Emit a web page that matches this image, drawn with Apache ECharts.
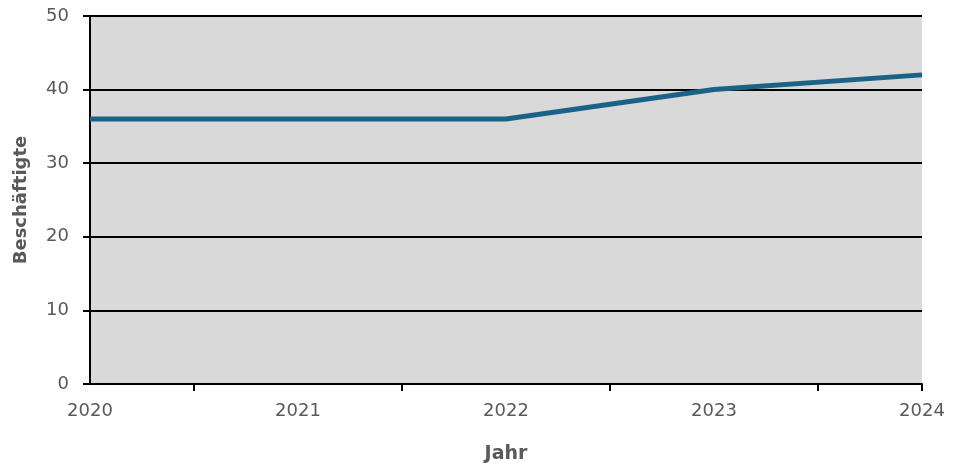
<!DOCTYPE html>
<html><head><meta charset="utf-8">
<script src="https://cdn.jsdelivr.net/npm/echarts@6/dist/echarts.min.js"></script>
<style>html,body{margin:0;padding:0;background:#fff}#c{width:954px;height:470px}</style>
</head><body><div id="c"></div>
<script>
const years = [2020, 2021, 2022, 2023, 2024];
const employees = [36, 36, 36, 40, 42];
const yTicks = [0, 10, 20, 30, 40, 50];
const xTickMarks = [2020.5, 2021.5, 2022.5, 2023.5, 2024];

const chart = echarts.init(document.getElementById('c'), null, {renderer: 'canvas'});
const labelColor = '#595959';
const font = 'DejaVu Sans';
chart.setOption({
  animation: false,
  grid: {left: 90, right: 32, top: 16, bottom: 86, show: true, backgroundColor: '#d9d9d9', borderWidth: 0, outerBoundsMode: 'none', containLabel: false},
  xAxis: {
    type: 'value', min: years[0], max: years[years.length - 1], interval: 1,
    name: 'Jahr', nameLocation: 'middle', nameGap: 61,
    nameTextStyle: {color: labelColor, fontFamily: font, fontSize: 19, fontWeight: 'bold'},
    axisLine: {show: true, lineStyle: {color: '#000', width: 2}},
    axisTick: {show: true, customValues: xTickMarks, length: 7, lineStyle: {color: '#000', width: 2}},
    axisLabel: {customValues: years, color: labelColor, fontFamily: font, fontSize: 18, margin: 18, formatter: v => String(v)},
    splitLine: {show: false}
  },
  yAxis: {
    type: 'value', min: yTicks[0], max: yTicks[yTicks.length - 1], interval: 10,
    name: 'Beschäftigte', nameLocation: 'middle', nameGap: 60, nameRotate: 90,
    nameTextStyle: {color: labelColor, fontFamily: font, fontSize: 18, fontWeight: 'bold'},
    axisLine: {show: true, lineStyle: {color: '#000', width: 2}},
    axisTick: {show: true, length: 7, lineStyle: {color: '#000', width: 2}},
    axisLabel: {color: labelColor, fontFamily: font, fontSize: 18, margin: 21},
    splitLine: {show: true, lineStyle: {color: '#000', width: 2}}
  },
  series: [{
    type: 'line',
    data: years.map((y, i) => [y, employees[i]]),
    showSymbol: false,
    lineStyle: {color: '#1b6287', width: 5},
    itemStyle: {color: '#1b6287'}
  }]
});
</script></body></html>
